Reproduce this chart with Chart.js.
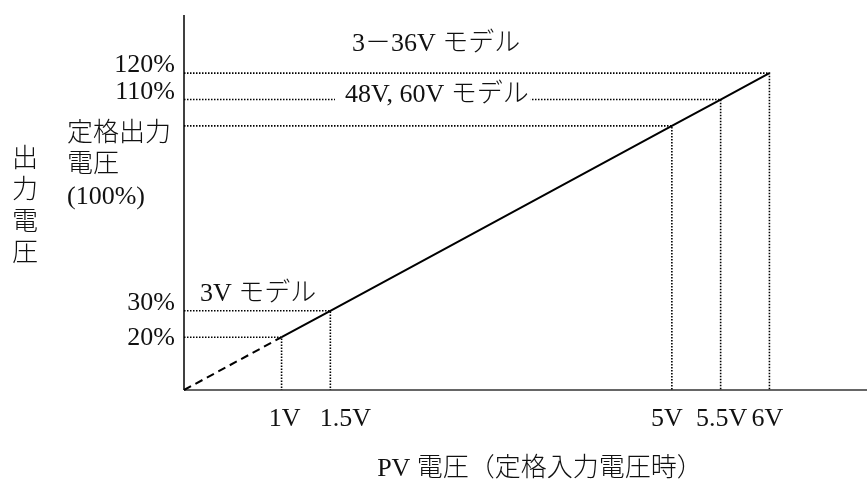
<!DOCTYPE html>
<html lang="ja">
<head>
<meta charset="utf-8">
<title>PV電圧と出力電圧</title>
<script src="https://cdn.jsdelivr.net/npm/chart.js@4.4.1/dist/chart.umd.min.js"></script>
<style>
  html, body { margin: 0; padding: 0; background: #fff; }
  #wrap { width: 867px; height: 487px; position: relative; }
</style>
</head>
<body>
<div id="wrap"><canvas id="chart"></canvas></div>
<script>
// 出力電圧特性: PV電圧 (V) に対する出力電圧 (%)

const xTicks = [1, 1.5, 5, 5.5, 6];
const xTickLabels = ['1V', '1.5V', '5V', '5.5V', '6V'];
const yLevels = [20, 30, 100, 110, 120];
const yTickLabels = ['20%', '30%', ['定格出力', '電圧', '(100%)'], '110%', '120%'];
const startX = [0, 1];
const startY = [0, 20];
const modelLabels = ['3V モデル', '48V, 60V モデル', '3－36V モデル'];
const modelLevels = [30, 110, 120];
const yTitle = ['出', '力', '電', '圧'];
const xTitle = 'PV 電圧（定格入力電圧時）';

const FONT = '"Liberation Serif", "Noto Sans CJK JP", serif';

// 目盛り位置からのずれ (元の図の配置に合わせる)
const xLabelNudge = [3, 15, -5, 1, -2];

const annotate = {
  id: 'annotate',
  beforeDatasetsDraw(chart) {
    const { ctx, chartArea: a } = chart;
    ctx.save();
    ctx.strokeStyle = '#000';
    ctx.lineWidth = 1.5;
    ctx.beginPath();
    ctx.moveTo(a.left, a.top);
    ctx.lineTo(a.left, a.bottom);
    ctx.stroke();
    ctx.strokeStyle = '#666';
    ctx.lineWidth = 2;
    ctx.beginPath();
    ctx.moveTo(a.left, a.bottom);
    ctx.lineTo(a.right, a.bottom);
    ctx.stroke();
    ctx.restore();
  },
  afterDatasetsDraw(chart) {
    const { ctx } = chart;
    const x = chart.scales.x, y = chart.scales.y;
    ctx.save();
    ctx.fillStyle = '#111';
    ctx.font = '300 26px ' + FONT;
    ctx.textBaseline = 'middle';

    // 縦軸の目盛り
    const yOff = [1, -8, 0, -7, -8];
    yTickLabels.forEach((lab, i) => {
      const py = y.getPixelForValue(yLevels[i]);
      if (Array.isArray(lab)) {
        ctx.textAlign = 'left';
        lab.forEach((line, j) => ctx.fillText(line, 67, py + 8 + j * 31.5));
      } else {
        ctx.textAlign = 'right';
        ctx.fillText(lab, 175, py + yOff[i]);
      }
    });

    // 横軸の目盛り
    ctx.textAlign = 'center';
    xTickLabels.forEach((lab, i) => {
      ctx.fillText(lab, x.getPixelForValue(xTicks[i]) + xLabelNudge[i], 419);
    });

    // モデル名
    const modelPos = [[200, -17], [345, -4], [352, -29]];
    ctx.textAlign = 'left';
    modelLabels.forEach((lab, i) => {
      const py = y.getPixelForValue(modelLevels[i]) + modelPos[i][1];
      if (i === 1) {
        const w = ctx.measureText(lab).width;
        ctx.fillStyle = '#fff';
        ctx.fillRect(modelPos[i][0] - 10, py - 12, w + 12, 24);
        ctx.fillStyle = '#111';
      }
      ctx.fillText(lab, modelPos[i][0], py);
    });

    // 軸タイトル
    ctx.textAlign = 'center';
    yTitle.forEach((ch, i) => ctx.fillText(ch, 25, 160 + i * 31.5));
    ctx.fillText(xTitle, 540, 469);
    ctx.restore();
  }
};

const guideSets = yLevels.map((lv, i) => ({
  data: [{ x: 0, y: lv }, { x: xTicks[i], y: lv }, { x: xTicks[i], y: 0 }],
  borderColor: '#000',
  borderWidth: 1.6,
  borderDash: [1.5, 1.5],
  pointRadius: 0,
  tension: 0,
  clip: false
}));

new Chart(document.getElementById('chart'), {
  type: 'scatter',
  data: {
    datasets: [
      ...guideSets,
      {
        data: startX.map((v, i) => ({ x: v, y: startY[i] })),
        borderColor: '#000',
        borderWidth: 2,
        borderDash: [8, 5],
        pointRadius: 0,
        clip: false
      },
      {
        data: xTicks.map((v, i) => ({ x: v, y: yLevels[i] })),
        borderColor: '#000',
        borderWidth: 2,
        pointRadius: 0,
        clip: false
      }
    ].map(d => ({ showLine: true, ...d }))
  },
  options: {
    responsive: true,
    maintainAspectRatio: false,
    animation: false,
    layout: { padding: { left: 184, right: 0, top: 15, bottom: 97 } },
    plugins: { legend: { display: false }, tooltip: { enabled: false } },
    scales: {
      x: { type: 'linear', min: 0, max: 7, display: false },
      y: { type: 'linear', min: 0, max: 142, display: false }
    }
  },
  plugins: [annotate]
});
</script>
</body>
</html>
